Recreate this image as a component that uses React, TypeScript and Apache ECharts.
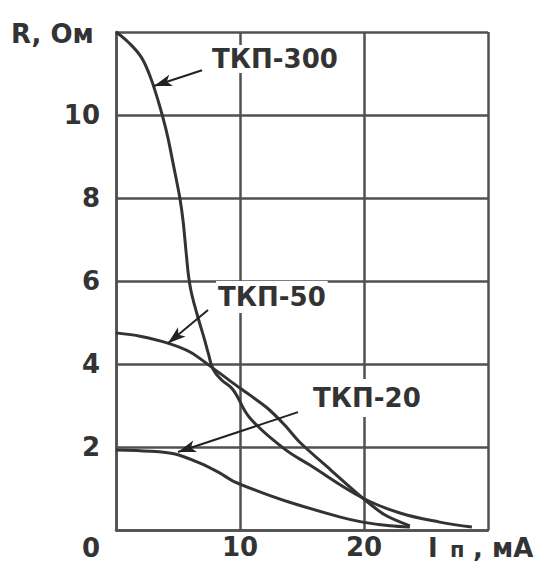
import React, { useEffect, useRef } from "react";
import * as echarts from "echarts";

// Current I (mA) and resistance R (Ohm)
const tkp300X = [0, 0.97, 2.02, 2.74, 3.31, 3.79, 4.19, 4.52, 4.84, 5.16, 5.4, 5.56, 5.7, 5.85, 6.05, 6.35, 6.7, 7.1, 7.45, 7.82, 8.5, 9.44, 10.8, 13.47, 15.6, 19.9, 22.9, 26.1, 28.7];
const tkp300Y = [12.0, 11.76, 11.4, 10.94, 10.43, 9.93, 9.45, 8.96, 8.48, 7.98, 7.47, 6.99, 6.55, 6.12, 5.76, 5.4, 5.03, 4.63, 4.25, 3.88, 3.62, 3.38, 2.7, 1.98, 1.57, 0.77, 0.41, 0.19, 0.07];

const tkp50X = [0, 1.94, 4.11, 5.97, 7.82, 9.44, 10.8, 12.2, 13.6, 14.8, 17.3, 19.9, 21.7, 23.7];
const tkp50Y = [4.75, 4.67, 4.51, 4.29, 3.9, 3.54, 3.25, 2.94, 2.53, 2.12, 1.45, 0.77, 0.36, 0.1];

const tkp20X = [0, 2.74, 4.76, 6.77, 8.39, 9.44, 11.6, 14.0, 18.1, 19.9, 22.1, 23.7];
const tkp20Y = [1.93, 1.9, 1.83, 1.61, 1.37, 1.18, 0.92, 0.67, 0.31, 0.19, 0.1, 0.07];

const xTickLabels = ["10", "20"];
const yTickLabels = ["2", "4", "6", "8", "10"];

// Annotation arrows: [tip, tail] in data units
const arrow300 = [[3.06, 10.7], [6.94, 11.08]];
const arrow50 = [[4.19, 4.5], [7.42, 5.3]];
const arrow20 = [[5.0, 1.88], [14.68, 2.84]];

const seriesNames = ["ТКП-300", "ТКП-50", "ТКП-20"];

const FONT = "'DejaVu Sans', Verdana, sans-serif";
const TXT = "#333";
const LINE = "#333";
const GRID = "#505050";

const zip = (xs: number[], ys: number[]) => xs.map((x, i) => [x, ys[i]]);

export default function App() {
  const ref = useRef<HTMLDivElement>(null);
  useEffect(() => {
    if (!ref.current) return;
    const chart = echarts.init(ref.current, null, { renderer: "svg" });
    const mk = (a: number[][]) => ({
      silent: true,
      symbol: ["arrow", "none"],
      symbolSize: [9, 18],
      lineStyle: { color: "#222", width: 2, type: "solid" },
      label: { show: false },
      emphasis: { disabled: true },
      data: [[{ coord: a[0] }, { coord: a[1] }]],
    });
    const ser = (name: string, d: number[][], a: number[][], smooth: number) => ({
      name,
      type: "line",
      data: d,
      smooth,
      showSymbol: false,
      lineStyle: { color: LINE, width: 3 },
      markLine: mk(a),
    });
    const ts = { fontFamily: FONT, fontSize: 26, fontWeight: "bold", fill: TXT };
    const label = (text: string, x: number, y: number, pad: number[]) => ({
      type: "text",
      x,
      y,
      z: 10,
      style: {
        text,
        ...ts,
        lineHeight: 24,
        verticalAlign: "middle",
        align: "left",
        backgroundColor: "#fff",
        padding: pad,
      },
    });
    const plain = (text: string, x: number, y: number, size = 26) => ({
      type: "text",
      x,
      y,
      style: { text, ...ts, fontSize: size, lineHeight: size - 2, verticalAlign: "middle", align: "left" },
    });
    chart.setOption({
      animation: false,
      grid: { left: 116, right: 53, top: 32, bottom: 32 },
      xAxis: {
        type: "value",
        min: 0,
        max: 30,
        interval: 10,
        axisLine: { show: true, lineStyle: { color: GRID, width: 2.5 } },
        axisTick: { show: false },
        splitLine: { show: true, lineStyle: { color: GRID, width: 2.5 } },
        axisLabel: {
          margin: 4,
          fontFamily: FONT,
          fontSize: 26,
          fontWeight: "bold",
          color: TXT,
          formatter: (v: number) => (xTickLabels.includes(String(v)) ? String(v) : ""),
        },
      },
      yAxis: {
        type: "value",
        min: 0,
        max: 12,
        interval: 2,
        axisLine: { show: true, lineStyle: { color: GRID, width: 2.5 } },
        axisTick: { show: false },
        splitLine: { show: true, lineStyle: { color: GRID, width: 2.5 } },
        axisLabel: {
          margin: 16,
          fontFamily: FONT,
          fontSize: 26,
          fontWeight: "bold",
          color: TXT,
          formatter: (v: number) => (yTickLabels.includes(String(v)) ? String(v) : ""),
        },
      },
      graphic: [
        plain("R, Ом", 11, 34),
        plain("0", 82, 548),
        plain("I", 428, 548),
        plain("п", 450, 550, 21),
        plain(", мА", 473, 548),
        label(seriesNames[0], 210, 59, [0, 2, 4, 2]),
        label(seriesNames[1], 216, 297, [0, 2, 8, 2]),
        label(seriesNames[2], 311, 398, [4, 2, 10, 2]),
      ],
      series: [
        ser(seriesNames[0], zip(tkp300X, tkp300Y), arrow300, 0.4),
        ser(seriesNames[1], zip(tkp50X, tkp50Y), arrow50, 0.3),
        ser(seriesNames[2], zip(tkp20X, tkp20Y), arrow20, 0.3),
      ],
    });
    return () => chart.dispose();
  }, []);
  return (
    <div
      ref={ref}
      style={{ position: "absolute", left: 0, top: 0, width: 541, height: 562 }}
    />
  );
}
